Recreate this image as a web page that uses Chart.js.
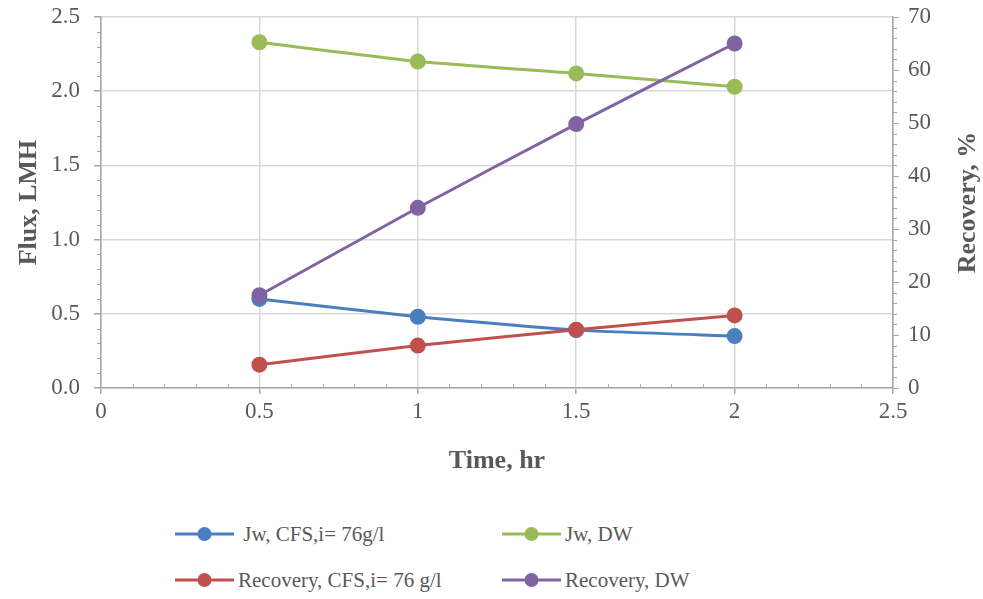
<!DOCTYPE html>
<html>
<head>
<meta charset="utf-8">
<script src="https://cdn.jsdelivr.net/npm/chart.js@4.4.1/dist/chart.umd.min.js"></script>
<style>
    body { margin: 0; background: #fff; }
    #wrap { position: relative; width: 983px; height: 599px; }
    #chartBox { position: absolute; left: 0; top: 0; width: 983px; height: 481px; }
    .legend-item { position: absolute; display: flex; align-items: center; font-family: "Liberation Serif", serif; font-size: 21px; color: #595959; white-space: pre; line-height: 26px; }
    .legend-item canvas { margin-right: 4px; }
</style>
</head>
<body>
<div id="wrap">
    <div id="chartBox"><canvas id="fluxChart"></canvas></div>
    <div id="legend"></div>
</div>
<script>
// data
const times = [0.5, 1, 1.5, 2];
const jwCfs = [0.60, 0.48, 0.39, 0.35];
const jwDw = [2.33, 2.20, 2.12, 2.03];
const recoveryCfs = [4.4, 8.0, 11.0, 13.7];
const recoveryDw = [17.5, 34.0, 49.8, 65.0];

const seriesNames = [' Jw, CFS,i= 76g/l', 'Jw, DW', 'Recovery, CFS,i= 76 g/l', 'Recovery, DW'];
const seriesColors = ['#4a7ebf', '#9bbb59', '#c0504d', '#8064a2'];

const xTicks = [0, 0.5, 1, 1.5, 2, 2.5];
const fluxTicks = [0, 0.5, 1.0, 1.5, 2.0, 2.5];
const recoveryTicks = [0, 10, 20, 30, 40, 50, 60, 70];

const grey = '#595959';
const serif = '"Liberation Serif", "Times New Roman", serif';

function points(ys) {
    return times.map((t, i) => ({ x: t, y: ys[i] }));
}

function makeSet(idx, ys, axis, order) {
    return {
        label: seriesNames[idx],
        data: points(ys),
        yAxisID: axis,
        borderColor: seriesColors[idx],
        backgroundColor: seriesColors[idx],
        pointBackgroundColor: seriesColors[idx],
        pointBorderColor: seriesColors[idx],
        pointRadius: 6.5,
        borderWidth: 3,
        tension: 0.15,
        order: order
    };
}

const tickFont = { family: serif, size: 23 };
const titleFont = { family: serif, size: 26, weight: 'bold' };

// small ticks between the labelled ones + right title read bottom-to-top
const extras = {
    id: 'extras',
    afterDraw(chart) {
        const ctx = chart.ctx;
        const s = chart.scales;
        ctx.save();
        ctx.strokeStyle = '#a6a6a6';
        ctx.lineWidth = 1;
        ctx.beginPath();
        for (let i = 1; i < 25; i++) {
            if (i % 5 === 0) continue;
            const v = i / 10;
            const py = Math.round(s.y.getPixelForValue(v)) + 0.5;
            ctx.moveTo(s.y.right - 4, py); ctx.lineTo(s.y.right, py);
            const px = Math.round(s.x.getPixelForValue(v)) + 0.5;
            ctx.moveTo(px, s.x.top); ctx.lineTo(px, s.x.top - 4);
        }
        for (let i = 1; i < 35; i++) {
            if (i % 5 === 0) continue;
            const py = Math.round(s.y2.getPixelForValue(i * 2)) + 0.5;
            ctx.moveTo(s.y2.left, py); ctx.lineTo(s.y2.left + 4, py);
        }
        ctx.stroke();

        const a = chart.chartArea;
        ctx.translate(968, (a.top + a.bottom) / 2);
        ctx.rotate(-Math.PI / 2);
        ctx.font = 'bold 26px ' + serif;
        ctx.fillStyle = grey;
        ctx.textAlign = 'center';
        ctx.textBaseline = 'middle';
        ctx.fillText('Recovery, %', 0, 0);
        ctx.restore();
    }
};

function fixWidth(w) {
    return sc => { sc.width = w; sc.paddingTop = 0; sc.paddingBottom = 0; };
}

const ctx = document.getElementById('fluxChart').getContext('2d');
const chart = new Chart(ctx, {
    type: 'line',
    data: {
        datasets: [
            makeSet(0, jwCfs, 'y', 3),
            makeSet(1, jwDw, 'y', 2),
            makeSet(2, recoveryCfs, 'y2', 1),
            makeSet(3, recoveryDw, 'y2', 0)
        ]
    },
    options: {
        responsive: true,
        maintainAspectRatio: false,
        animation: false,
        layout: { padding: { top: 17, left: 0, right: 0, bottom: 0 } },
        plugins: { legend: { display: false }, tooltip: { enabled: false } },
        scales: {
            x: {
                type: 'linear',
                min: 0, max: 2.5,
                afterBuildTicks: sc => { sc.ticks = xTicks.map(v => ({ value: v })); },
                ticks: { font: tickFont, color: grey, padding: 4, maxRotation: 0, callback: v => String(v) },
                grid: { color: '#d9d9d9', lineWidth: 1.5, tickLength: 6, tickColor: '#a6a6a6' },
                border: { color: '#a6a6a6', width: 1.5 },
                title: { display: true, text: 'Time, hr', font: titleFont, color: grey, padding: { top: 6 } },
                afterFit: sc => { sc.height = 93; sc.paddingLeft = 0; sc.paddingRight = 0; }
            },
            y: {
                position: 'left',
                min: 0, max: 2.5,
                afterBuildTicks: sc => { sc.ticks = fluxTicks.map(v => ({ value: v })); },
                ticks: { font: tickFont, color: grey, padding: 14, callback: v => v.toFixed(1) },
                grid: { color: '#d9d9d9', lineWidth: 1.5, tickLength: 7, tickColor: '#a6a6a6' },
                border: { color: '#a6a6a6', width: 1.5 },
                title: { display: true, text: 'Flux, LMH', font: titleFont, color: grey, padding: { top: 14, bottom: 0 } },
                afterFit: fixWidth(101)
            },
            y2: {
                position: 'right',
                min: 0, max: 70,
                afterBuildTicks: sc => { sc.ticks = recoveryTicks.map(v => ({ value: v })); },
                ticks: { font: tickFont, color: grey, padding: 9 },
                grid: { drawOnChartArea: false, tickLength: 6, tickColor: '#a6a6a6' },
                border: { color: '#a6a6a6', width: 1.5 },
                afterFit: fixWidth(90)
            }
        }
    },
    plugins: [extras]
});

// legend laid out as the reference's two-by-two grid
const legendPlaces = [
    { left: 175, top: 521 },
    { left: 502, top: 521 },
    { left: 175, top: 567 },
    { left: 502, top: 567 }
];
const legendBox = document.getElementById('legend');
chart.data.datasets.forEach((ds, i) => {
    const item = document.createElement('div');
    item.className = 'legend-item';
    item.style.left = legendPlaces[i].left + 'px';
    item.style.top = legendPlaces[i].top + 'px';
    const sym = document.createElement('canvas');
    sym.width = 59; sym.height = 26;
    const c = sym.getContext('2d');
    c.strokeStyle = ds.borderColor;
    c.lineWidth = 3;
    c.beginPath(); c.moveTo(0, 13); c.lineTo(59, 13); c.stroke();
    c.fillStyle = ds.borderColor;
    c.beginPath(); c.arc(29.5, 13, 7, 0, Math.PI * 2); c.fill();
    item.appendChild(sym);
    const txt = document.createElement('span');
    txt.textContent = ds.label;
    item.appendChild(txt);
    legendBox.appendChild(item);
});
</script>
</body>
</html>
